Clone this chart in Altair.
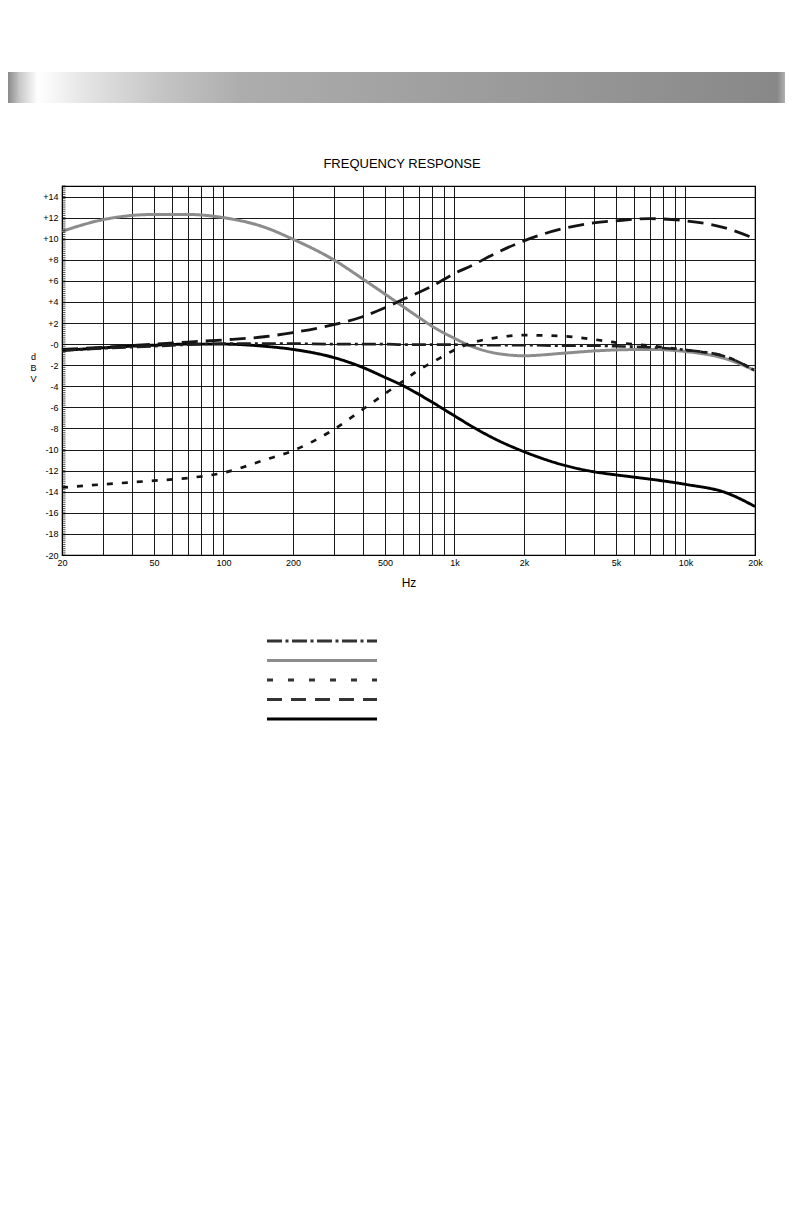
import altair as alt
import pandas as pd
import numpy as np

# ---------------- data ----------------
freqs = [20, 30, 50, 70, 100, 150, 200, 300, 400, 500, 600, 700, 800, 1000,
         1200, 1500, 2000, 3000, 4000, 5000, 7000, 10000, 15000, 20000]

flat_db = [-0.6, -0.4, -0.2, -0.05, 0.05, 0.05, 0.05, 0.0, 0.0, 0.0, -0.05, -0.05,
           -0.05, -0.05, -0.1, -0.1, -0.1, -0.15, -0.15, -0.2, -0.3, -0.55, -1.2, -2.5]
bass_boost_db = [10.7, 11.8, 12.3, 12.3, 12.0, 11.1, 9.95, 8.0, 6.2, 4.75, 3.55, 2.55,
                 1.7, 0.55, -0.25, -0.85, -1.1, -0.85, -0.65, -0.55, -0.5, -0.7, -1.4, -2.5]
bass_cut_db = [-13.6, -13.3, -12.95, -12.7, -12.2, -11.0, -10.1, -8.1, -6.2, -4.7, -3.5,
               -2.45, -1.75, -0.55, 0.15, 0.6, 0.85, 0.75, 0.45, 0.15, -0.15, -0.55, -1.2, -2.5]
treble_boost_db = [-0.5, -0.3, 0.0, 0.2, 0.4, 0.7, 1.1, 1.85, 2.6, 3.45, 4.25, 4.9, 5.5,
                   6.7, 7.5, 8.6, 9.8, 11.0, 11.5, 11.7, 11.9, 11.7, 11.0, 10.0]
treble_cut_db = [-0.6, -0.35, -0.1, 0.0, 0.0, -0.2, -0.5, -1.27, -2.2, -3.15, -3.95, -4.75,
                 -5.5, -6.8, -7.85, -9.0, -10.2, -11.5, -12.1, -12.4, -12.8, -13.3, -14.1, -15.4]

# drawing order (first = bottom)
draw_order = ["bass boost", "treble cut", "treble boost", "bass cut", "flat"]
series_values = {
    "flat": flat_db,
    "bass boost": bass_boost_db,
    "bass cut": bass_cut_db,
    "treble boost": treble_boost_db,
    "treble cut": treble_cut_db,
}
# legend order, top to bottom
legend_order = ["flat", "bass boost", "bass cut", "treble boost", "treble cut"]

chart_title = ["FREQUENCY RESPONSE"]

x_grid_values = [20, 30, 40, 50, 60, 70, 80, 90, 100, 200, 300, 400, 500, 600, 700,
                 800, 900, 1000, 2000, 3000, 4000, 5000, 6000, 7000, 8000, 9000, 10000, 20000]
x_label_values = [20, 50, 100, 200, 500, 1000, 2000, 5000, 10000, 20000]
y_grid_values = [-20, -18, -16, -14, -12, -10, -8, -6, -4, -2, 0, 2, 4, 6, 8, 10, 12, 14]
y_minor_ticks = [round(v, 1) for v in np.arange(-20, 15.01, 0.2)]

# ---------------- styles ----------------
FONT = "Liberation Sans, Arial, sans-serif"
colors = {"flat": "#1e1e1e", "bass boost": "#8c8c8c", "bass cut": "#141414",
          "treble boost": "#141414", "treble cut": "#000000"}
dashes = {"flat": [14, 4, 3, 4], "bass boost": [1, 0], "bass cut": [6, 9],
          "treble boost": [16, 8], "treble cut": [1, 0]}
legend_colors = {"flat": "#333333", "bass boost": "#8c8c8c", "bass cut": "#333333",
                 "treble boost": "#333333", "treble cut": "#000000"}
legend_dashes = {"flat": [15, 3.5, 3, 3.5], "bass boost": [1, 0], "bass cut": [6, 15],
                 "treble boost": [15, 9], "treble cut": [1, 0]}
widths = {"flat": 2.6, "bass boost": 3, "bass cut": 2.6, "treble boost": 2.8, "treble cut": 2.6}

rows = []
for s in draw_order:
    for f, v in zip(freqs, series_values[s]):
        rows.append({"series": s, "freq": f, "db": v})
df = pd.DataFrame(rows)

W, H = 693, 369

x_scale = alt.Scale(type="log", domain=[20, 20000], nice=False)
y_scale = alt.Scale(domain=[-20, 15], nice=False, zero=False)

label_list = ",".join(str(v) for v in x_label_values)
x_label_expr = (
    f"indexof([{label_list}], datum.value) >= 0 ? "
    "(datum.value >= 1000 ? (datum.value / 1000) + 'k' : '' + datum.value) : ''"
)
y_label_expr = "datum.value > 0 ? '+' + datum.value : (datum.value == 0 ? '-0' : '' + datum.value)"

x_axis = alt.Axis(values=x_grid_values, labelExpr=x_label_expr, labelOverlap=False,
                  grid=True, gridColor="#000000", gridWidth=0.9, gridOpacity=1,
                  ticks=False, domain=False, labelFont=FONT, labelFontSize=9,
                  labelColor="#000000", labelPadding=3, labelFlush=False,
                  title="Hz", titleFont=FONT, titleFontSize=12,
                  titleFontWeight="normal", titleColor="#000000", titlePadding=10)
y_axis = alt.Axis(values=y_grid_values, labelExpr=y_label_expr, labelOverlap=False,
                  grid=True, gridColor="#000000", gridWidth=0.9, gridOpacity=1, ticks=False,
                  domain=False, labelFont=FONT, labelFontSize=9,
                  labelColor="#000000", labelPadding=4,
                  title=["d", "B", "V"], titleAngle=0, titleX=-29, titleY=166,
                  titleAlign="center", titleBaseline="top", titleLineHeight=11,
                  titleFont=FONT, titleFontSize=9, titleFontWeight="normal",
                  titleColor="#000000")

lines = alt.Chart(df).mark_line(interpolate="monotone").encode(
    x=alt.X("freq:Q", scale=x_scale, axis=x_axis),
    y=alt.Y("db:Q", scale=y_scale, axis=y_axis),
    color=alt.Color("series:N", scale=alt.Scale(domain=draw_order,
                                                range=[colors[s] for s in draw_order])),
    strokeDash=alt.StrokeDash("series:N", scale=alt.Scale(domain=draw_order,
                                                          range=[dashes[s] for s in draw_order])),
    strokeWidth=alt.StrokeWidth("series:N", scale=alt.Scale(domain=draw_order,
                                                            range=[widths[s] for s in draw_order])),
    order=alt.Order("freq:Q"),
    detail="series:N",
)

minor = alt.Chart(pd.DataFrame({"db": y_minor_ticks})).mark_rule(
    color="#000000", strokeWidth=0.7
).encode(
    y=alt.Y("db:Q", scale=y_scale, axis=y_axis),
    x=alt.value(0),
    x2=alt.value(3.5),
)

main = alt.layer(lines, minor)

legend_df = pd.DataFrame({"series": legend_order})
legend = alt.Chart(legend_df).mark_rule(strokeWidth=3).encode(
    y=alt.Y("series:N", scale=alt.Scale(type="point", domain=legend_order,
                                        range=[455, 533], padding=0), axis=None),
    x=alt.value(205),
    x2=alt.value(315),
    color=alt.Color("series:N", scale=alt.Scale(domain=legend_order,
                                                range=[legend_colors[s] for s in legend_order])),
    strokeDash=alt.StrokeDash("series:N", scale=alt.Scale(domain=legend_order,
                                                          range=[legend_dashes[s] for s in legend_order])),
)

bar_gradient = alt.Gradient(
    gradient="linear",
    x1=0, x2=1, y1=0, y2=0,
    stops=[
        alt.GradientStop(color="#8a8a8a", offset=0.0),
        alt.GradientStop(color="#c8c8c8", offset=0.015),
        alt.GradientStop(color="#ffffff", offset=0.038),
        alt.GradientStop(color="#e4e4e4", offset=0.1),
        alt.GradientStop(color="#c4c4c4", offset=0.2),
        alt.GradientStop(color="#adadad", offset=0.3),
        alt.GradientStop(color="#a2a2a2", offset=0.5),
        alt.GradientStop(color="#959595", offset=0.75),
        alt.GradientStop(color="#888888", offset=0.99),
        alt.GradientStop(color="#b0b0b0", offset=1.0),
    ],
)
header = alt.Chart(pd.DataFrame({"k": [0]})).mark_rect(fill=bar_gradient).encode(
    x=alt.value(-54), x2=alt.value(723), y=alt.value(-114), y2=alt.value(-83)
)

title = alt.Chart(pd.DataFrame({"t": chart_title})).mark_text(
    font=FONT, fontSize=13, color="#000000", align="center", baseline="middle"
).encode(text="t:N", x=alt.value(340), y=alt.value(-22))

chart = alt.layer(header, title, main, legend).resolve_scale(
    y="independent", color="independent", strokeDash="independent"
).properties(
    width=W, height=H,
    padding={"top": 64, "left": 0, "right": 0, "bottom": 5},
).configure_view(
    stroke="#000000", strokeWidth=1.2
).configure_legend(disable=True)

chart.save("out.html", embed_options={"renderer": "svg", "actions": False})
